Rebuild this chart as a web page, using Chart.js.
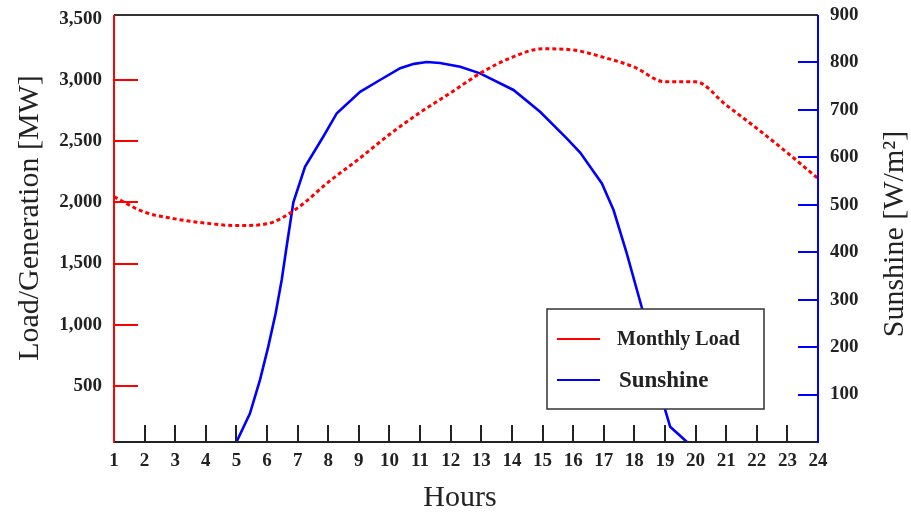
<!DOCTYPE html>
<html lang="en">
<head>
    <meta charset="UTF-8">
    <title>Load and Sunshine</title>
    <script src="https://cdn.jsdelivr.net/npm/chart.js"></script>
    <style>
        html, body { margin: 0; padding: 0; background: #fff; }
        #wrap { width: 911px; height: 512px; }
    </style>
</head>
<body>
    <div id="wrap"><canvas id="loadChart" width="911" height="512"></canvas></div>

    <script>
        // Hourly load, MW
        const hours = [1, 2, 3, 4, 5, 6, 7, 8, 9, 10, 11, 12, 13, 14, 15, 16, 17, 18, 19, 20, 21, 22, 23, 24];
        const loadMW = [2045, 1920, 1865, 1830, 1810, 1825, 1955, 2165, 2355, 2555, 2735, 2895,
                        3060, 3185, 3255, 3245, 3185, 3105, 2985, 2985, 2795, 2605, 2405, 2195];

        // Sunshine samples, W/m2
        const sunHours = [5.0, 5.44, 5.77, 6.04, 6.28, 6.48, 6.64, 6.86, 7.24, 7.84, 8.28, 9.04, 9.69,
                          10.35, 10.8, 11.22, 11.65, 12.31, 12.96, 14.05, 14.92, 15.79, 16.23, 16.94,
                          17.32, 17.75, 18.25, 19.01, 19.17, 19.72];
        const sunWm2 = [0, 60, 131, 201, 271, 342, 412, 505, 580, 644, 693, 738, 763,
                        788, 797, 801, 799, 791, 777, 742, 696, 640, 610, 545,
                        489, 398, 282, 67, 32, 0];

        const loadTicks = [500, 1000, 1500, 2000, 2500, 3000, 3500];
        const sunTicks = [100, 200, 300, 400, 500, 600, 700, 800, 900];

        const RED = '#ff0000';
        const BLUE = '#0000ff';
        const INK = '#222222';
        const SERIF = "'Liberation Serif', 'Times New Roman', serif";

        // axis frame, inward ticks, titles and the boxed legend
        const framePlugin = {
            id: 'frame',
            afterDatasetsDraw(chart) {
                const { ctx, chartArea: a, scales } = chart;
                ctx.save();
                ctx.lineWidth = 2;

                // top and bottom edges
                ctx.strokeStyle = '#333';
                ctx.beginPath();
                ctx.moveTo(a.left, a.top); ctx.lineTo(a.right, a.top);
                ctx.stroke();
                ctx.strokeStyle = INK;
                ctx.beginPath();
                ctx.moveTo(a.left, a.bottom); ctx.lineTo(a.right, a.bottom);
                for (let h = 2; h <= 23; h++) {
                    const x = Math.round(scales.x.getPixelForValue(h));
                    ctx.moveTo(x, a.bottom); ctx.lineTo(x, a.bottom - 17);
                }
                ctx.stroke();

                // left axis (load)
                ctx.strokeStyle = RED;
                ctx.beginPath();
                ctx.moveTo(a.left, a.top); ctx.lineTo(a.left, a.bottom + 1);
                loadTicks.slice(0, -1).forEach(v => {
                    const y = Math.round(scales.y.getPixelForValue(v));
                    ctx.moveTo(a.left, y); ctx.lineTo(a.left + 24, y);
                });
                ctx.stroke();

                // right axis (sunshine)
                ctx.strokeStyle = BLUE;
                ctx.beginPath();
                ctx.moveTo(a.right, a.top); ctx.lineTo(a.right, a.bottom + 1);
                sunTicks.slice(0, -1).forEach(v => {
                    const y = Math.round(scales.y1.getPixelForValue(v));
                    ctx.moveTo(a.right, y); ctx.lineTo(a.right - 20, y);
                });
                ctx.stroke();

                // axis titles
                ctx.fillStyle = INK;
                ctx.font = '30px ' + SERIF;
                ctx.textAlign = 'center';
                ctx.textBaseline = 'middle';
                ctx.fillText('Hours', a.left + 346, a.bottom + 56);

                ctx.save();
                ctx.translate(a.left - 84, 218);
                ctx.rotate(-Math.PI / 2);
                ctx.fillText('Load/Generation [MW]', 0, 0);
                ctx.restore();

                ctx.save();
                ctx.translate(a.right + 77, 234);
                ctx.rotate(-Math.PI / 2);
                ctx.fillText('Sunshine [W/m²]', 0, 0);
                ctx.restore();

                ctx.restore();
            },
            afterDraw(chart) {
                const { ctx, chartArea: a } = chart;
                const box = { l: a.right - 271, t: a.bottom - 133, w: 217, h: 100 };
                ctx.save();
                ctx.fillStyle = '#fff';
                ctx.fillRect(box.l, box.t, box.w, box.h);
                ctx.strokeStyle = '#333';
                ctx.lineWidth = 1.5;
                ctx.strokeRect(box.l, box.t, box.w, box.h);

                const rows = [
                    { ds: chart.data.datasets[0], y: box.t + 30, size: 20, tx: box.l + 70 },
                    { ds: chart.data.datasets[1], y: box.t + 71, size: 23, tx: box.l + 72 }
                ];
                rows.forEach(r => {
                    ctx.strokeStyle = r.ds.borderColor;
                    ctx.lineWidth = 2;
                    ctx.beginPath();
                    ctx.moveTo(box.l + 10, r.y); ctx.lineTo(box.l + 53, r.y);
                    ctx.stroke();
                    ctx.fillStyle = INK;
                    ctx.font = 'bold ' + r.size + 'px ' + SERIF;
                    ctx.textAlign = 'left';
                    ctx.textBaseline = 'middle';
                    ctx.fillText(r.ds.label, r.tx, r.y + 1);
                });
                ctx.restore();
            }
        };

        const tickFont = { family: SERIF, size: 19, weight: 'bold' };

        // pin the plot box: fixed axis sizes, no label overflow padding
        const fitX = s => { s.height = 70; s.paddingLeft = 0; s.paddingRight = 0; };
        const fitY = w => s => { s.width = w; s.paddingTop = 0; s.paddingBottom = 0; };

        new Chart(document.getElementById('loadChart'), {
            type: 'line',
            data: {
                datasets: [{
                    label: 'Monthly Load',
                    data: hours.map((h, i) => ({ x: h, y: loadMW[i] })),
                    yAxisID: 'y',
                    borderColor: RED,
                    borderWidth: 3,
                    borderDash: [4, 3],
                    cubicInterpolationMode: 'monotone',
                    pointRadius: 0,
                    fill: false
                }, {
                    label: 'Sunshine',
                    data: sunHours.map((h, i) => ({ x: h, y: sunWm2[i] })),
                    yAxisID: 'y1',
                    borderColor: BLUE,
                    borderWidth: 2.6,
                    tension: 0,
                    pointRadius: 0,
                    fill: false
                }]
            },
            options: {
                responsive: false,
                animation: false,
                layout: { padding: { top: 15, left: 0, right: 0, bottom: 0 } },
                plugins: {
                    legend: { display: false },
                    tooltip: { enabled: false }
                },
                scales: {
                    x: {
                        type: 'linear',
                        min: 1, max: 24,
                        grid: { display: false, drawTicks: false },
                        border: { display: false },
                        ticks: { stepSize: 1, font: tickFont, color: INK, padding: 8, maxRotation: 0, autoSkip: false },
                        afterFit: fitX
                    },
                    y: {
                        position: 'left',
                        min: 42, max: 3531,
                        grid: { display: false, drawTicks: false },
                        border: { display: false },
                        afterBuildTicks: s => { s.ticks = loadTicks.map(v => ({ value: v })); },
                        ticks: {
                            font: tickFont, color: INK, padding: 12,
                            callback: v => v.toLocaleString('en-US')
                        },
                        afterFit: fitY(114)
                    },
                    y1: {
                        position: 'right',
                        min: 0, max: 900,
                        grid: { display: false, drawTicks: false },
                        border: { display: false },
                        afterBuildTicks: s => { s.ticks = sunTicks.map(v => ({ value: v })); },
                        ticks: {
                            font: tickFont, color: INK, padding: 12,
                            callback: v => String(v)
                        },
                        afterFit: fitY(93)
                    }
                }
            },
            plugins: [framePlugin]
        });
    </script>
</body>
</html>
